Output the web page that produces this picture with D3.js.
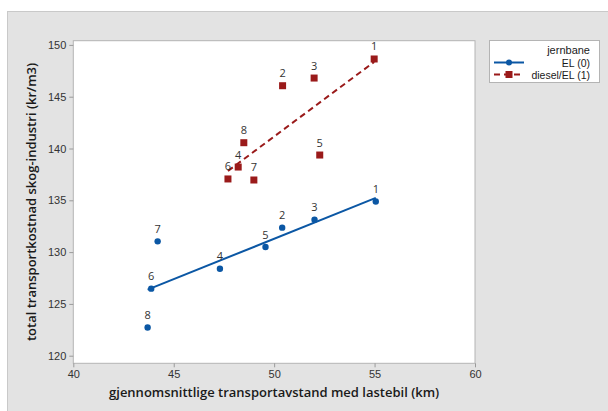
<!DOCTYPE html>
<html><head><meta charset="utf-8">
<script src="https://cdn.jsdelivr.net/npm/d3@7"></script>
<style>body{margin:0;background:#fff;}svg{display:block;font-family:"Open Sans","Noto Sans",sans-serif;}</style>
</head><body>
<svg id="c" width="608" height="411"></svg>
<script>
// ---- data ----
const pointIds = ["1","2","3","4","5","6","7","8"];
const elDistance = [55.06, 50.40, 52.01, 47.30, 49.57, 43.88, 44.20, 43.70];
const elCost     = [134.88, 132.36, 133.13, 128.40, 130.49, 126.47, 131.04, 122.72];
const dieselDistance = [54.98, 50.42, 51.99, 48.21, 52.27, 47.70, 48.99, 48.49];
const dieselCost     = [148.64, 146.06, 146.80, 138.21, 139.37, 137.06, 136.96, 140.56];
const xTicks = [40, 45, 50, 55, 60];
const yTicks = [120, 125, 130, 135, 140, 145, 150];
const seriesNames = ["EL (0)", "diesel/EL (1)"];
const legendTitle = "jernbane";
const xTitle = "gjennomsnittlige transportavstand med lastebil (km)";
const yTitle = "total transportkostnad skog-industri (kr/m3)";

const svg = d3.select("#c");
const BLUE = "#0b57a4", RED = "#9a1a1a";

// outer panel
svg.append("rect").attr("x",7.5).attr("y",11.5).attr("width",610).attr("height",410)
  .attr("fill","#e3e3e3").attr("stroke","#c9c9c9");

const L=73.3, R=475, T=40.7, B=363.3;
svg.append("rect").attr("x",L).attr("y",T).attr("width",R-L).attr("height",B-T)
  .attr("fill","#fff").attr("stroke","#b4b4b4");

const x = d3.scaleLinear().domain([40,60]).range([L,R]);
const y = d3.scaleLinear().domain([120,150]).range([355.7,44.9]);

const xAxis = svg.append("g").attr("transform",`translate(0,${B})`)
  .call(d3.axisBottom(x).tickValues(xTicks).tickSize(4).tickPadding(3).tickSizeOuter(0));
const yAxis = svg.append("g").attr("transform",`translate(${L},0)`)
  .call(d3.axisLeft(y).tickValues(yTicks).tickSize(4).tickPadding(3).tickSizeOuter(0));
[xAxis,yAxis].forEach(a=>{
  a.select(".domain").remove();
  a.selectAll(".tick line").attr("stroke","#9a9a9a");
  a.selectAll(".tick text").attr("fill","#333").style("font-size","11px");
});

svg.append("text").attr("x",(L+R)/2).attr("y",397).attr("text-anchor","middle")
  .attr("fill","#1a1a1a").style("font-size","13px").style("font-weight","600").text(xTitle);
svg.append("text").attr("transform",`translate(36,${(T+B)/2}) rotate(-90)`).attr("text-anchor","middle")
  .attr("fill","#1a1a1a").style("font-size","13px").style("font-weight","600").text(yTitle);

function fit(xs, ys){
  const mx=d3.mean(xs), my=d3.mean(ys);
  let sxy=0,sxx=0; xs.forEach((v,i)=>{sxy+=(v-mx)*(ys[i]-my); sxx+=(v-mx)*(v-mx);});
  const b=sxy/sxx, a=my-b*mx;
  const x0=d3.min(xs), x1=d3.max(xs);
  return [[x0,a+b*x0],[x1,a+b*x1]];
}
const series = [
  {xs:elDistance, ys:elCost, color:BLUE, dash:null, shape:"circle"},
  {xs:dieselDistance, ys:dieselCost, color:RED, dash:"6,4", shape:"square"}
];
const line = d3.line().x(d=>x(d[0])).y(d=>y(d[1]));
series.forEach(s=>{
  svg.append("path").datum(fit(s.xs,s.ys)).attr("d",line).attr("fill","none")
    .attr("stroke",s.color).attr("stroke-width",2).attr("stroke-dasharray",s.dash);
});
series.forEach(s=>{
  const pts = s.xs.map((v,i)=>({x:v,y:s.ys[i],id:pointIds[i]}));
  const g = svg.append("g");
  if(s.shape==="circle"){
    g.selectAll("circle").data(pts).join("circle").attr("cx",d=>x(d.x)).attr("cy",d=>y(d.y))
      .attr("r",3.2).attr("fill",s.color);
  } else {
    g.selectAll("rect").data(pts).join("rect").attr("x",d=>x(d.x)-3.5).attr("y",d=>y(d.y)-3.5)
      .attr("width",7).attr("height",7).attr("fill",s.color);
  }
  g.selectAll("text").data(pts).join("text").attr("x",d=>x(d.x)).attr("y",d=>y(d.y)-8.5)
    .attr("text-anchor","middle").attr("fill","#333").style("font-size","11px").text(d=>d.id);
});

// legend
const lg = svg.append("g").style("font-family","'Liberation Sans',Arial,sans-serif");
lg.append("rect").attr("x",489.5).attr("y",40.5).attr("width",110).attr("height",42)
  .attr("fill","#fff").attr("stroke","#b4b4b4");
lg.append("text").attr("x",590).attr("y",53.5).attr("text-anchor","end").attr("fill","#1a1a1a")
  .style("font-size","11px").text(legendTitle);
series.forEach((s,i)=>{
  const yy = 62.5 + i*12;
  lg.append("line").attr("x1",494).attr("x2",524).attr("y1",yy).attr("y2",yy)
    .attr("stroke",s.color).attr("stroke-width",2).attr("stroke-dasharray",s.dash);
  if(s.shape==="circle") lg.append("circle").attr("cx",509).attr("cy",yy).attr("r",3).attr("fill",s.color);
  else lg.append("rect").attr("x",505.5).attr("y",yy-3.5).attr("width",7).attr("height",7).attr("fill",s.color);
  lg.append("text").attr("x",590).attr("y",yy+4).attr("text-anchor","end").attr("fill","#1a1a1a")
    .style("font-size","10.5px").text(seriesNames[i]);
});
</script>
</body></html>
